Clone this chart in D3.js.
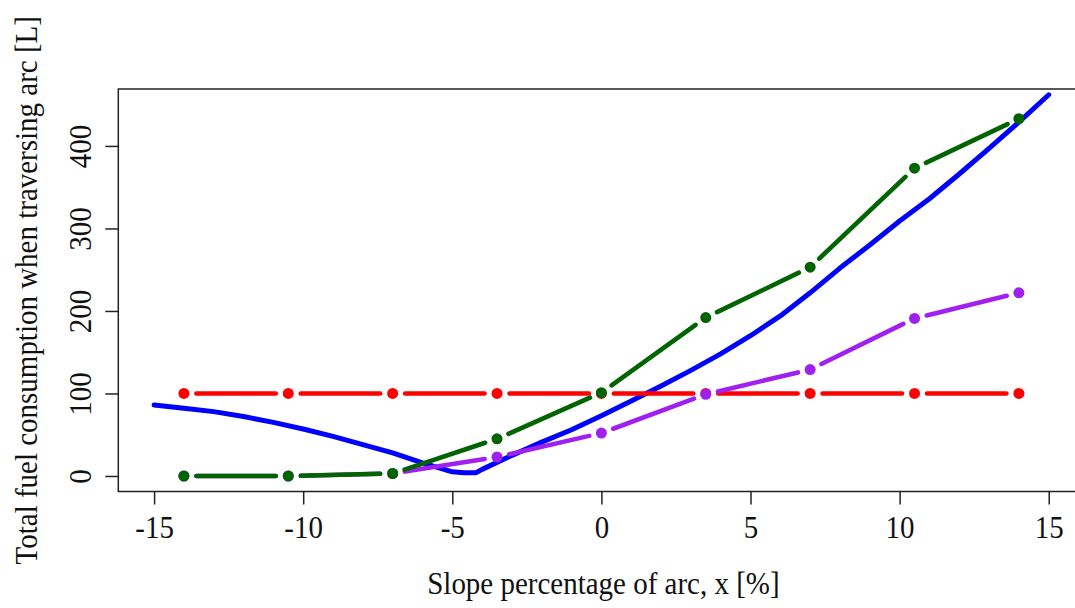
<!DOCTYPE html>
<html>
<head>
<meta charset="utf-8">
<script src="https://cdn.jsdelivr.net/npm/d3@7"></script>
<style>
  html, body { margin: 0; padding: 0; background: #fff; overflow: hidden; }
  svg { display: block; }
  text { font-family: "Liberation Serif", "Times New Roman", serif; fill: #111; }
</style>
</head>
<body>
<svg id="chart" width="1075" height="608"></svg>
<script>
// Slope values at which the piecewise scenarios are evaluated
const slopes = [-14, -10.5, -7, -3.5, 0, 3.5, 7, 10.5, 14];
// Fuel consumption for each scenario [L]
const constantFuel = [100, 100, 100, 100, 100, 100, 100, 100, 100];
const steepFuel    = [0, 0, 3, 45, 101, 192, 253, 373, 433];
const mildFuel     = [0, 0, 3, 23, 52, 99, 129, 191, 222];

// Continuous consumption curve
const curveSlope = [-15, -14, -13, -12, -11, -10, -9, -8, -7, -6, -5, -4.6, -4.2, -4, -3, -2, -1,
                    0, 1, 2, 3, 4, 5, 6, 7, 8, 9, 10, 11, 12, 13, 14, 15];
const curveFuel  = [86, 82, 78, 72, 65, 57, 48, 38, 28, 16, 5, 4, 4, 8, 25, 41, 56,
                    73, 91, 109, 128, 148, 170, 194, 222, 252, 280, 309, 336, 366, 397, 429, 462];

const xTicks = [-15, -10, -5, 0, 5, 10, 15];
const yTicks = [0, 100, 200, 300, 400];

const FONT = 31, SQUEEZE = 0.935;

const svg = d3.select("#chart");

const box = { left: 118.3, right: 1084.5, top: 89, bottom: 491.5 };
const x = d3.scaleLinear().domain([-16.2, 16.2]).range([box.left, box.right]);
const y = d3.scaleLinear().domain([-18.8, 469]).range([box.bottom, box.top]);

// Continuous curve
svg.append("path")
  .datum(curveSlope.map((s, i) => [s, curveFuel[i]]))
  .attr("d", d3.line().x(d => x(d[0])).y(d => y(d[1])))
  .attr("fill", "none")
  .attr("stroke", "#0000ff")
  .attr("stroke-width", 5)
  .attr("stroke-linejoin", "round")
  .attr("stroke-linecap", "round");

// Points joined by segments that stop short of each point
function pointSeries(values, color) {
  const pts = slopes.map((s, i) => [x(s), y(values[i])]);
  const gap = 12.5;
  const g = svg.append("g");
  for (let i = 0; i < pts.length - 1; i++) {
    const [x0, y0] = pts[i], [x1, y1] = pts[i + 1];
    const len = Math.hypot(x1 - x0, y1 - y0);
    if (len <= 2 * gap) continue;
    const ux = (x1 - x0) / len, uy = (y1 - y0) / len;
    g.append("line")
      .attr("x1", x0 + ux * gap).attr("y1", y0 + uy * gap)
      .attr("x2", x1 - ux * gap).attr("y2", y1 - uy * gap)
      .attr("stroke", color)
      .attr("stroke-width", 4.6)
      .attr("stroke-linecap", "round");
  }
  g.selectAll("circle").data(pts).enter().append("circle")
    .attr("cx", d => d[0]).attr("cy", d => d[1])
    .attr("r", 5.5)
    .attr("fill", color);
}

pointSeries(constantFuel, "#ff0000");
pointSeries(mildFuel, "#a020f0");
pointSeries(steepFuel, "#006400");

// Frame
svg.append("rect")
  .attr("x", box.left).attr("y", box.top)
  .attr("width", box.right - box.left).attr("height", box.bottom - box.top)
  .attr("fill", "none").attr("stroke", "#222").attr("stroke-width", 1.5);

// X axis
const xAxis = svg.append("g").attr("transform", `translate(0,${box.bottom})`)
  .call(d3.axisBottom(x).tickValues(xTicks).tickSize(13)
        .tickFormat(d => d < 0 ? "-" + Math.abs(d) : String(d)));
xAxis.select(".domain").remove();
xAxis.selectAll("line").attr("stroke", "#222").attr("stroke-width", 1.5);
xAxis.selectAll("text")
  .attr("y", null).attr("dy", null)
  .attr("transform", `translate(0,46) scale(${SQUEEZE},1)`)
  .attr("font-size", FONT).attr("fill", "#111")
  .style("font-family", "'Liberation Serif', serif");

// Y axis with labels running parallel to the axis
const yAxis = svg.append("g").attr("transform", `translate(${box.left},0)`)
  .call(d3.axisLeft(y).tickValues(yTicks).tickSize(13).tickFormat(d3.format("d")));
yAxis.select(".domain").remove();
yAxis.selectAll("line").attr("stroke", "#222").attr("stroke-width", 1.5);
yAxis.selectAll("text")
  .attr("x", null).attr("dy", null)
  .attr("text-anchor", "middle")
  .attr("transform", `translate(-27,0) rotate(-90) scale(${SQUEEZE},1)`)
  .attr("font-size", FONT).attr("fill", "#111")
  .style("font-family", "'Liberation Serif', serif");

// Axis titles
svg.append("text")
  .attr("transform", `translate(${(box.left + box.right) / 2 + 2},594) scale(${SQUEEZE},1)`)
  .attr("text-anchor", "middle")
  .attr("font-size", FONT)
  .text("Slope percentage of arc, x [%]");

svg.append("text")
  .attr("transform", `translate(37,${(box.top + box.bottom) / 2}) rotate(-90) scale(${SQUEEZE},1)`)
  .attr("text-anchor", "middle")
  .attr("font-size", FONT)
  .text("Total fuel consumption when traversing arc [L]");
</script>
</body>
</html>
